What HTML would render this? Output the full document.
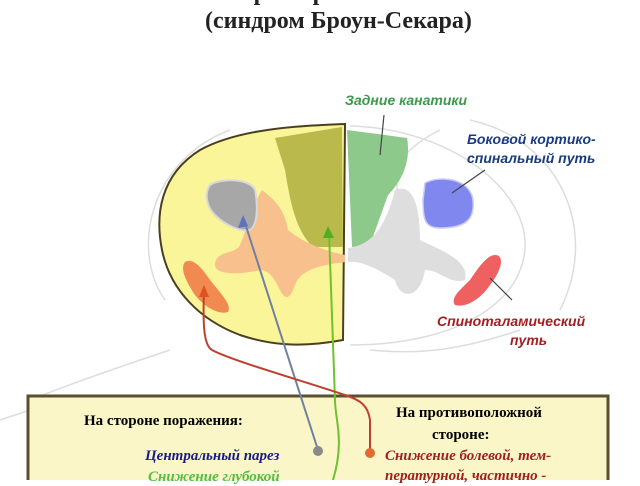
<!DOCTYPE html>
<html><head><meta charset="utf-8"><style>
body{margin:0;width:640px;height:480px;overflow:hidden;background:#fff;position:relative;font-family:"Liberation Serif",serif}
.t{position:absolute;white-space:nowrap}
.s{font-family:"Liberation Sans",sans-serif;font-style:italic;font-weight:bold;font-size:14px}
.b{font-weight:bold;font-size:15px}
.i{font-style:italic;font-weight:bold;font-size:15px}
</style></head><body>
<svg width="640" height="480" style="position:absolute;left:0;top:0">
<g fill="none" stroke="#ddd" stroke-width="1.5">
<path d="M165 300 C130 250 150 160 230 130"/>
<path d="M470 120 C560 140 600 230 560 310"/>
<path d="M440 130 C400 150 390 170 400 200"/>
<path d="M30 400 C80 380 140 360 170 350"/>
<path d="M0 420 C30 410 60 400 90 395"/>
<path d="M520 330 C460 350 420 355 370 350"/>
<path d="M350 126 C440 128 520 180 525 240 C528 300 460 345 350 345"/>
</g>
<path d="M347 130 L407 138 C412 165 398 185 388 195 L370 245 L352 247 Z" fill="#8cc98a"/>
<path d="M395 190 C420 180 420 230 420 240 C440 250 470 260 465 280 C450 285 440 270 425 270 C420 300 400 300 395 280 C380 270 360 260 348 262 L348 248 C370 245 385 230 395 190Z" fill="#dedede"/>
<path d="M425 183 C440 175 470 178 473 200 C475 220 465 228 440 228 C425 228 423 220 423 200Z" fill="#8088f0" stroke="#c8ccf8" stroke-width="1.5"/>
<path d="M495 255 C505 255 502 270 490 285 C480 300 465 308 455 305 C450 298 460 290 470 280 C480 265 488 255 495 255Z" fill="#ef6060"/>
<path d="M345 124 C300 126 240 128 200 150 C160 175 155 215 162 250 C170 290 200 320 240 335 C270 345 300 348 343 340 Z" fill="#fbf59a" stroke="#4a4020" stroke-width="2"/>
<path d="M275 138 L342 127 L343 247 L313 247 C295 230 290 200 285 170Z" fill="#b9b94c"/>
<path d="M262 190 C275 200 285 210 288 230 C300 240 320 250 345 255 L345 262 C320 265 300 270 295 285 C290 300 285 300 280 290 C275 280 270 270 260 270 C240 275 215 275 215 265 C215 250 235 255 240 245 C245 235 250 210 262 190Z" fill="#f7c08c"/>
<path d="M210 185 C220 178 250 178 255 190 C258 205 258 225 250 230 C240 232 225 225 215 215 C205 205 205 192 210 185Z" fill="#a7a7a7" stroke="#d8d8d8" stroke-width="2"/>
<path d="M185 262 C192 258 200 265 210 280 C222 295 232 305 228 312 C220 315 205 308 195 295 C185 280 180 268 185 262Z" fill="#f08a50"/>
<g stroke="#444" stroke-width="1.2">
<line x1="384" y1="115" x2="380" y2="155"/>
<line x1="485" y1="170" x2="452" y2="193"/>
<line x1="512" y1="300" x2="490" y2="278"/>
</g>
<rect x="28" y="396" width="580" height="90" fill="#fbf6c8" stroke="#5a5030" stroke-width="3"/>
<path d="M318 450 L244 220" stroke="#7080a0" stroke-width="2" fill="none"/>
<polygon points="243,215 238,228 248,226" fill="#6070c0"/>
<path d="M333 480 C345 440 335 420 335 400 L329 232" stroke="#70c030" stroke-width="2" fill="none"/>
<polygon points="328,226 323,238 334,238" fill="#50b020"/>
<path d="M370 452 L370 420 C368 405 360 400 345 395 C300 380 230 360 212 350 C203 345 203 320 204 292" stroke="#c04030" stroke-width="2" fill="none"/>
<polygon points="204,285 199,297 209,297" fill="#e05020"/>
<circle cx="318" cy="451" r="5" fill="#8a8a8a"/>
<circle cx="370" cy="453" r="5" fill="#e06a30"/>
</svg>
<div class="t" style="left:235px;top:-20px;font-size:24px;font-weight:bold;color:#222">При поражении половины</div>
<div class="t" style="left:205px;top:8px;font-size:24px;font-weight:bold;color:#222">(синдром Броун-Секара)</div>
<div class="t s" style="left:345px;top:92px;color:#3a9a4a">Задние канатики</div>
<div class="t s" style="left:467px;top:131px;color:#1a3a80">Боковой кортико-</div>
<div class="t s" style="left:467px;top:150px;color:#1a3a80">спинальный путь</div>
<div class="t s" style="left:437px;top:313px;color:#a02020">Спиноталамический</div>
<div class="t s" style="left:510px;top:332px;color:#a02020">путь</div>
<div class="t b" style="left:84px;top:413px">На стороне поражения:</div>
<div class="t b" style="left:396px;top:405px">На противоположной</div>
<div class="t b" style="left:432px;top:427px">стороне:</div>
<div class="t i" style="left:145px;top:448px;color:#1a1a90">Центральный парез</div>
<div class="t i" style="left:148px;top:469px;color:#50c040">Снижение глубокой</div>
<div class="t i" style="left:385px;top:448px;color:#a02020">Снижение болевой, тем-</div>
<div class="t i" style="left:385px;top:468px;color:#a02020">пературной, частично -</div>
</body></html>
